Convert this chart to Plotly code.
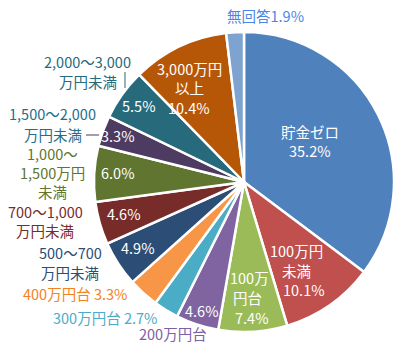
import plotly.graph_objects as go

W, H = 397, 349

categories = ["貯金ゼロ", "100万円未満", "100万円台", "200万円台", "300万円台", "400万円台",
              "500～700万円未満", "700～1,000万円未満", "1,000～1,500万円未満",
              "1,500～2,000万円未満", "2,000～3,000万円未満", "3,000万円以上", "無回答"]
values = [35.2, 10.1, 7.4, 4.6, 2.7, 3.3, 4.9, 4.6, 6.0, 3.3, 5.5, 10.4, 1.9]
slice_colors = ["#4F81BD", "#C0504D", "#9BBB59", "#8064A2", "#4BACC6", "#F79646",
                "#2C4D75", "#772C2A", "#5F7530", "#4D3B62", "#276A7C", "#B65708", "#7FA3D0"]

# label lines: (text, x px, y px, colour) — positions are layout only
label_lines = [
    ("貯金ゼロ", 310, 131, "white"), ("35.2%", 310, 150, "white"),
    ("100万円", 296, 250, "white"), ("未満", 296, 270, "white"), ("10.1%", 304, 289, "white"),
    ("100万", 249, 277, "white"), ("円台", 247, 297, "white"), ("7.4%", 251, 317, "white"),
    ("4.6%", 201, 310, "white"),
    ("200万円台", 173, 333, "#7E60A8"),
    ("300万円台 2.7%", 105, 317, "#4BACC6"),
    ("400万円台 3.3%", 75, 293, "#F58220"),
    ("500～700", 70, 252, "#2C4D75"), ("万円未満", 70, 272, "#2C4D75"),
    ("4.9%", 137, 247, "white"),
    ("700～1,000", 45, 211, "#772C2A"), ("万円未満", 45, 230, "#772C2A"),
    ("4.6%", 123, 213, "white"),
    ("1,000～", 52, 153, "#5F7530"), ("1,500万円", 52, 172, "#5F7530"), ("未満", 52, 191, "#5F7530"),
    ("6.0%", 117, 172, "white"),
    ("1,500～2,000", 53, 113, "#1E6E8C"), ("万円未満", 53, 134, "#1E6E8C"),
    ("3.3%", 118, 135, "white"),
    ("2,000～3,000", 87, 62, "#276A7C"), ("万円未満", 88, 81, "#276A7C"),
    ("5.5%", 138, 105, "white"),
    ("3,000万円", 189, 68, "white"), ("以上", 189, 88, "white"), ("10.4%", 189, 107, "white"),
    ("無回答1.9%", 265, 15, "#4A86E8"),
]

cx, cy, r = 244, 182, 150

fig = go.Figure(go.Pie(
    labels=categories, values=values, sort=False, direction="clockwise", rotation=0,
    marker=dict(colors=slice_colors, line=dict(color="white", width=2.5)),
    textinfo="none", hoverinfo="label+percent", showlegend=False,
    domain=dict(x=[(cx - r) / W, (cx + r) / W], y=[(H - cy - r) / H, (H - cy + r) / H]),
))

font_family = "Noto Sans CJK JP"
for text, px, py, col in label_lines:
    fig.add_annotation(text=text, x=px / W, y=1 - py / H, xref="paper", yref="paper",
                       showarrow=False, align="center", xanchor="center", yanchor="middle",
                       borderpad=0,
                       font=dict(family=font_family, size=14.5, color=col))

# leader lines
fig.add_shape(type="line", xref="paper", yref="paper",
              x0=125 / W, x1=125 / W, y0=1 - 72 / H, y1=1 - 88 / H,
              line=dict(color="#276A7C", width=1))
fig.add_shape(type="line", xref="paper", yref="paper",
              x0=86 / W, x1=99 / W, y0=1 - 135 / H, y1=1 - 135 / H,
              line=dict(color="#4D3B62", width=1))

fig.update_layout(width=W, height=H, margin=dict(l=0, r=0, t=0, b=0),
                  paper_bgcolor="white", plot_bgcolor="white")
fig.write_html("out.html")
